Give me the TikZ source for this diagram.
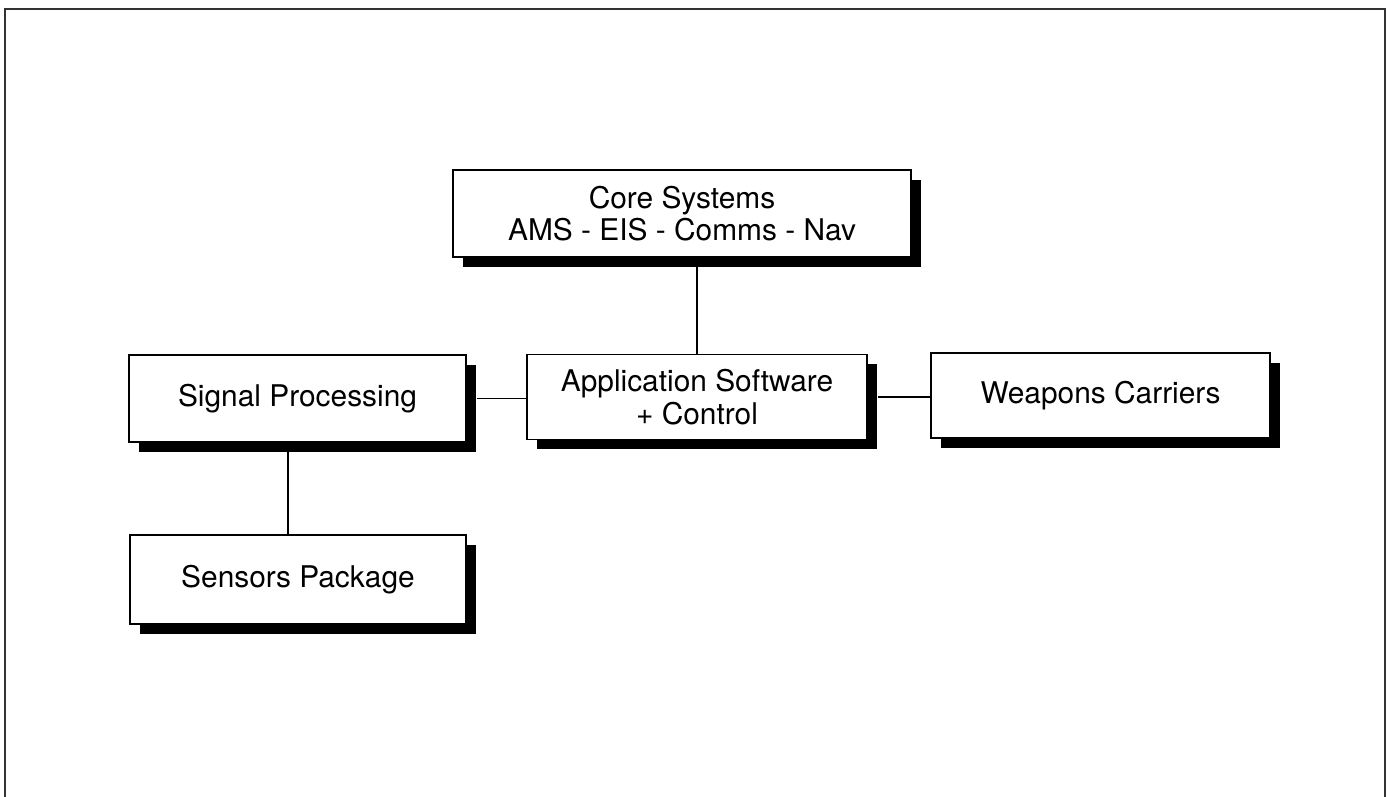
\documentclass[tikz,border=0pt]{standalone}
\usepackage{fontspec}
\setmainfont{TeX Gyre Heros}
\usepackage{tikz}
\usetikzlibrary{shadows}

\begin{document}
\begin{tikzpicture}[line width=1pt,
  block/.style={draw, fill=white, inner sep=0pt, align=center,
    font=\fontsize{17}{18.5}\selectfont,
    general shadow={fill=black, shadow xshift=0.2cm, shadow yshift=-0.2cm}},
  link/.style={line width=1.1pt}]
\useasboundingbox (0,0) rectangle (27.86,15.94);
% outer frame, open at the bottom
\draw[line width=0.8pt,black!80] (0.1,0) -- (0.1,15.76) -- (27.7,15.76) -- (27.7,0);

%boxes
\node[block, minimum width=9.16cm, minimum height=1.74cm] (core) at (13.64,11.67) {Core Systems\\AMS - EIS - Comms - Nav};
\node[block, minimum width=6.8cm, minimum height=1.7cm] (app) at (13.94,8.00) {Application Software\\+ Control};
\node[block, minimum width=6.74cm, minimum height=1.74cm] (sig) at (5.95,7.97) {Signal Processing};
\node[block, minimum width=6.78cm, minimum height=1.7cm] (weap) at (22.01,8.03) {Weapons Carriers};
\node[block, minimum width=6.72cm, minimum height=1.78cm] (sens) at (5.96,4.35) {Sensors Package};

%links
\draw[link] (app.north) -- (app.north |- core.south);
\draw[link] ([xshift=0.2cm]sig.east) -- (app.west |- sig.east);
\draw[link] ([xshift=0.2cm]app.east) -- (weap.west |- app.east);
\draw[link] ([xshift=-0.2cm]sens.north) -- ([xshift=-0.2cm]sens.north |- sig.south);
\end{tikzpicture}
\end{document}
